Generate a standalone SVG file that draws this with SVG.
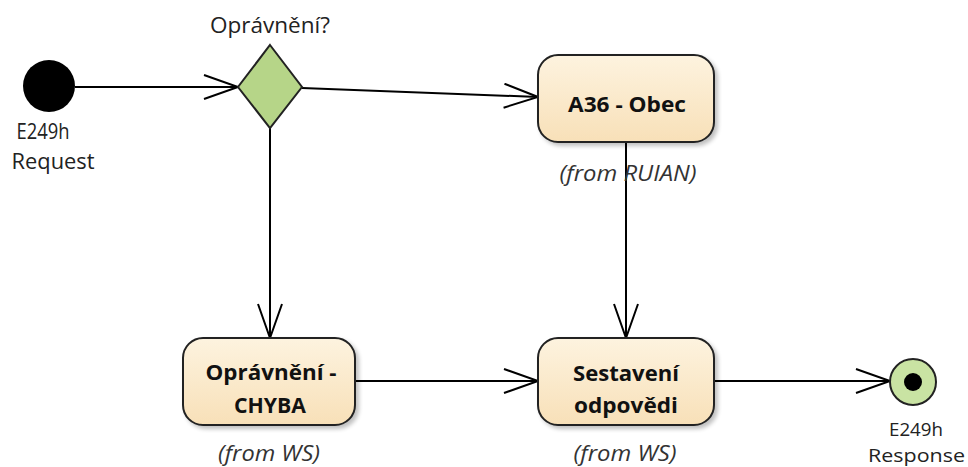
<svg xmlns="http://www.w3.org/2000/svg" width="968" height="467" viewBox="0 0 968 467">
<defs>
<marker id="arr" markerUnits="userSpaceOnUse" markerWidth="40" markerHeight="30" refX="35" refY="13" orient="auto">
<path d="M1,1 L35,13 L1,25" fill="none" stroke="#000" stroke-width="2"/>
</marker>
<linearGradient id="ng" x1="0" y1="0" x2="0" y2="1">
<stop offset="0" stop-color="#fdf3df"/>
<stop offset="1" stop-color="#f8e0b8"/>
</linearGradient>
<filter id="sh" x="-10%" y="-10%" width="130%" height="130%">
<feGaussianBlur in="SourceAlpha" stdDeviation="2"/>
<feOffset dx="3" dy="3"/>
<feComponentTransfer><feFuncA type="linear" slope="0.25"/></feComponentTransfer>
<feMerge><feMergeNode/><feMergeNode in="SourceGraphic"/></feMerge>
</filter>
</defs>
<style>
text{font-family:"Open Sans","Noto Sans",sans-serif;font-size:21px;fill:#222}
.b{font-weight:bold;fill:#111}
.i{font-style:italic;fill:#333}
.s{font-size:19px}
.n{fill:url(#ng);stroke:#222;stroke-width:2;filter:url(#sh)}
.c{fill:none;stroke:#000;stroke-width:2;marker-end:url(#arr)}
</style>
<rect width="968" height="467" fill="#fff"/>
<g id="connectors">
<line class="c" x1="75" y1="87" x2="238" y2="87"/>
<line class="c" x1="302" y1="88" x2="538" y2="97"/>
<line class="c" x1="270" y1="128" x2="270" y2="338"/>
<line class="c" x1="626" y1="142" x2="626" y2="338"/>
<line class="c" x1="355" y1="381" x2="538" y2="381"/>
<line class="c" x1="714" y1="381" x2="890" y2="381"/>
</g>
<g id="start">
<circle cx="49" cy="86" r="26" fill="#000"/>
<text x="43" y="139" text-anchor="middle" textLength="53" lengthAdjust="spacingAndGlyphs">E249h</text>
<text x="53" y="169" text-anchor="middle" textLength="83" lengthAdjust="spacingAndGlyphs">Request</text>
</g>
<g id="decision">
<polygon points="270,45 302,87 270,128 238,87" fill="#b6d588" stroke="#222" stroke-width="2"/>
<text x="270" y="33" text-anchor="middle" textLength="120" lengthAdjust="spacingAndGlyphs">Oprávnění?</text>
</g>
<g id="a36">
<rect class="n" x="538" y="55" width="176" height="87" rx="20"/>
<text class="b" x="627" y="112" text-anchor="middle" textLength="118" lengthAdjust="spacingAndGlyphs">A36 - Obec</text>
<text class="i" x="628" y="181" text-anchor="middle" textLength="137" lengthAdjust="spacingAndGlyphs">(from RUIAN)</text>
</g>
<g id="chyba">
<rect class="n" x="183" y="338" width="172" height="87" rx="20"/>
<text class="b" x="271" y="380" text-anchor="middle" textLength="131" lengthAdjust="spacingAndGlyphs">Oprávnění -</text>
<text class="b" x="270" y="413" text-anchor="middle" textLength="72" lengthAdjust="spacingAndGlyphs">CHYBA</text>
<text class="i" x="269" y="461" text-anchor="middle" textLength="102" lengthAdjust="spacingAndGlyphs">(from WS)</text>
</g>
<g id="sestaveni">
<rect class="n" x="538" y="338" width="176" height="87" rx="20"/>
<text class="b" x="626" y="381" text-anchor="middle" textLength="106" lengthAdjust="spacingAndGlyphs">Sestavení</text>
<text class="b" x="626" y="413" text-anchor="middle" textLength="104" lengthAdjust="spacingAndGlyphs">odpovědi</text>
<text class="i" x="625" y="461" text-anchor="middle" textLength="103" lengthAdjust="spacingAndGlyphs">(from WS)</text>
</g>
<g id="end">
<circle cx="913" cy="382" r="23" fill="#c9e3a3" stroke="#222" stroke-width="2"/>
<circle cx="913" cy="382" r="9" fill="#000"/>
<text class="s" x="916" y="436" text-anchor="middle" textLength="54" lengthAdjust="spacingAndGlyphs">E249h</text>
<text class="s" x="868" y="462" textLength="97" lengthAdjust="spacingAndGlyphs">Response</text>
</g>
</svg>
